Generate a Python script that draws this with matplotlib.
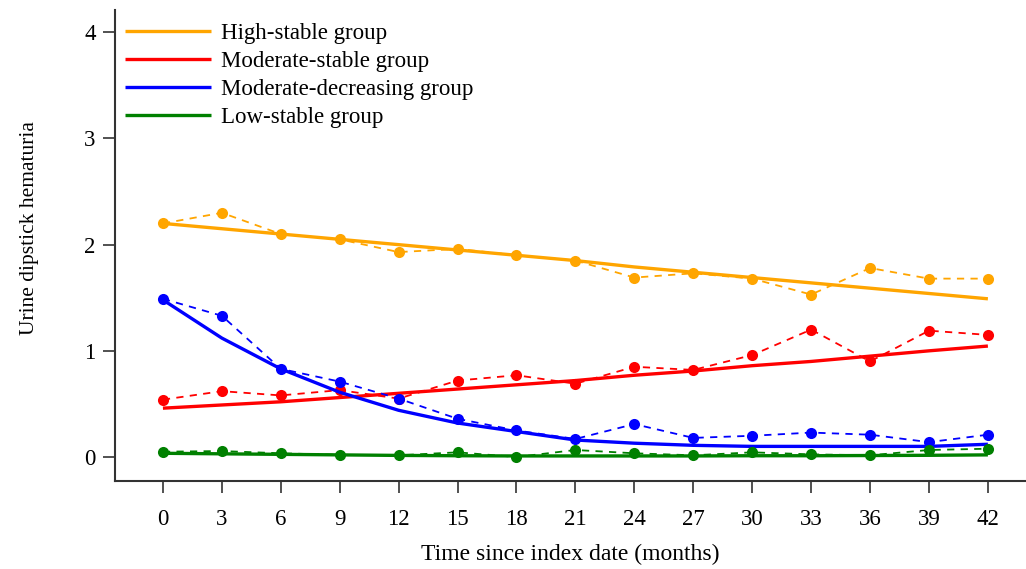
import matplotlib
matplotlib.use("Agg")
import matplotlib.pyplot as plt

plt.rcParams['font.family'] = ['Liberation Serif', 'DejaVu Serif']

months = [0, 3, 6, 9, 12, 15, 18, 21, 24, 27, 30, 33, 36, 39, 42]
groups = ["High-stable group", "Moderate-stable group",
          "Moderate-decreasing group", "Low-stable group"]
colors = ["#FFA500", "#FF0000", "#0000FF", "#008000"]

# observed means (dashed with points)
obs_high = [2.20, 2.30, 2.10, 2.05, 1.93, 1.96, 1.90, 1.85, 1.69, 1.73, 1.68, 1.53, 1.78, 1.68, 1.68]
obs_modstable = [0.54, 0.62, 0.58, 0.63, 0.55, 0.72, 0.77, 0.69, 0.85, 0.82, 0.96, 1.20, 0.90, 1.19, 1.15]
obs_moddec = [1.49, 1.33, 0.83, 0.71, 0.55, 0.36, 0.25, 0.17, 0.31, 0.18, 0.20, 0.23, 0.21, 0.14, 0.21]
obs_low = [0.05, 0.056, 0.035, 0.02, 0.016, 0.044, 0.0, 0.066, 0.035, 0.016, 0.044, 0.025, 0.016, 0.066, 0.078]

# fitted trajectories (solid)
fit_high = [2.20, 2.15, 2.10, 2.05, 2.00, 1.95, 1.90, 1.85, 1.79, 1.74, 1.69, 1.64, 1.59, 1.54, 1.49]
fit_modstable = [0.46, 0.49, 0.52, 0.56, 0.60, 0.64, 0.68, 0.72, 0.77, 0.81, 0.86, 0.90, 0.95, 1.00, 1.045]
fit_moddec = [1.48, 1.12, 0.83, 0.61, 0.44, 0.32, 0.24, 0.16, 0.13, 0.11, 0.10, 0.10, 0.10, 0.10, 0.12]
fit_low = [0.035, 0.03, 0.025, 0.02, 0.015, 0.012, 0.01, 0.01, 0.01, 0.01, 0.012, 0.012, 0.014, 0.016, 0.02]

obs = [obs_high, obs_modstable, obs_moddec, obs_low]
fit = [fit_high, fit_modstable, fit_moddec, fit_low]

W, H = 1026, 569
fig = plt.figure(figsize=(W / 100, H / 100), dpi=100)
left_px, right_px, top_px, bot_px = 115, 1026, 10, 481
ax = fig.add_axes([left_px / W, 1 - bot_px / H, (right_px - left_px) / W, (bot_px - top_px) / H])

handles = []
for o, f, c, g in zip(obs, fit, colors, groups):
    ax.plot(months, o, linestyle=(0, (4, 3.5)), color=c, linewidth=1.3,
            marker='o', markersize=8, markeredgewidth=0)
    h, = ax.plot(months, f, color=c, linewidth=2.4, solid_capstyle='butt', label=g)
    handles.append(h)

ax.set_xlim(-2.44, 43.94)
ax.set_ylim(-0.226, 4.21)
ax.set_xticks(months)
ax.set_xticklabels([str(m) for m in months])
ax.set_yticks([0, 1, 2, 3, 4])
ax.set_yticklabels(['0', '1', '2', '3', '4'])

for s in ['top', 'right']:
    ax.spines[s].set_visible(False)
for s in ['left', 'bottom']:
    ax.spines[s].set_linewidth(1.5)
    ax.spines[s].set_color('#333333')

ax.tick_params(axis='x', length=8.5, width=1.2, color='#333333', pad=12, labelsize=16.5)
ax.tick_params(axis='y', length=9, width=1.2, color='#333333', pad=5, labelsize=16.5)

ax.set_xlabel('Time since index date (months)', fontsize=17, labelpad=10)
ax.set_ylabel('Urine dipstick hematuria', fontsize=15.5)
ax.yaxis.set_label_coords(-0.0835, 0.537)

leg = ax.legend(handles=handles, loc='upper left', bbox_to_anchor=(-0.007, 1.006),
                frameon=False, fontsize=16.5, handlelength=3.75, handletextpad=0.45,
                labelspacing=0.3, borderaxespad=0.3)

fig.savefig('out.png', dpi=100)
